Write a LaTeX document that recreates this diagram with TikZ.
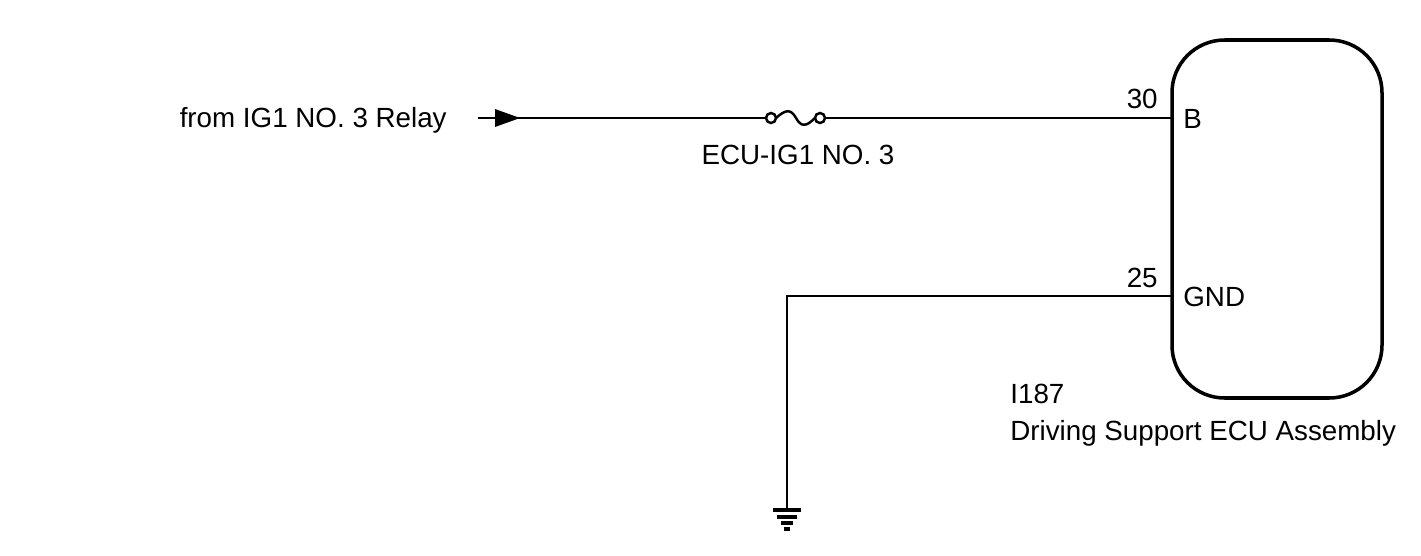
\documentclass[tikz,border=0pt]{standalone}
\usepackage{fontspec}
\setmainfont{Liberation Sans}
\usetikzlibrary{arrows.meta}

\tikzset{
  wire/.style={line width=1.4pt},
  lbl/.style={inner sep=0pt, font=\fontsize{15.8}{18}\selectfont},
}

\begin{document}
\begin{tikzpicture}[x=0.02cm, y=-0.02cm]
  \useasboundingbox (0,0) rectangle (1421,555);

  % ECU box
  \draw[wire, line width=2pt, rounded corners=30] (1172,40) rectangle (1382,398);
  \coordinate (pinB) at (1172,118);
  \coordinate (pinGND) at (1172,296);
  \node[lbl, anchor=base east] (n30) at (1158,108) {30};
  \node[lbl, anchor=base west] (nB) at (1183,128) {B};
  \node[lbl, anchor=base east] (n25) at (1158,287) {25};
  \node[lbl, anchor=base west] (nGND) at (1183,306) {GND};
  \node[lbl, anchor=base west] (code) at (1010,403) {I187};
  \node[lbl, anchor=base west] (ecu) at (1010,440) {Driving Support ECU Assembly};

  % supply with fuse
  \node[lbl, anchor=base east] (src) at (447,127) {from IG1 NO. 3 Relay};
  \coordinate (start) at (478,118);
  \coordinate (fuseL) at (766,118);
  \coordinate (fuseR) at (825,118);
  \draw[wire] (start) -- (fuseL);
  \fill (495,109) -- (520,118) -- (495,127) -- cycle;
  \draw[wire] (fuseL) ++(5,0) circle (5);
  \draw[wire] (fuseR) ++(-5,0) circle (5);
  \draw[wire] (776,118) .. controls (786,109) and (791,109) .. (796,118)
                        .. controls (801,127) and (806,127) .. (815,118);
  \draw[wire] (fuseR) -- (pinB);
  \node[lbl, anchor=base] (fuse) at (798,164) {ECU-IG1 NO. 3};

  % ground
  \coordinate (gnd) at (787,510);
  \draw[wire] (pinGND) -- (787,296) -- (gnd);
  \foreach \y/\w in {510/14, 517/10, 523/6, 529/3}
    \draw[wire, line width=2pt] (787-\w,\y) -- (787+\w,\y);
\end{tikzpicture}
\end{document}
